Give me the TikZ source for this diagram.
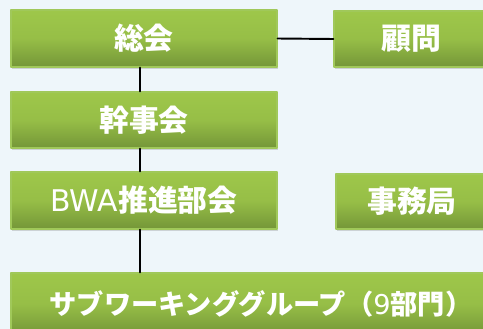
\documentclass[tikz,border=0pt]{standalone}
\usepackage{fontspec}
\newfontfamily\cjk{Noto Sans CJK JP}
\newfontfamily\latin{DejaVu Sans}
\usetikzlibrary{shadows}
\definecolor{bgblue}{RGB}{238,246,250}
\definecolor{greentop}{RGB}{158,199,74}
\definecolor{greenbot}{RGB}{116,150,56}
\definecolor{greenline}{RGB}{160,200,90}

\begin{document}
\begin{tikzpicture}[line cap=round, line join=round,
	orgbox/.style={draw=greenline, line width=0.6pt, top color=greentop, bottom color=greenbot,
		middle color=greentop!82!greenbot,
		text=white, inner sep=0pt, font=\cjk\bfseries\fontsize{17pt}{20pt}\selectfont,
		drop shadow={shadow xshift=0.5pt, shadow yshift=-1pt, opacity=0.3}},
	link/.style={black, line width=1.1pt}]

% ===== background =====
\fill[bgblue] (0,0) rectangle (9.66,-6.58);
\useasboundingbox (0,0) rectangle (9.66,-6.58);
\coordinate (spine) at (2.80,0);

% ===== boxes =====
\node[orgbox, minimum width=5.32cm, minimum height=1.14cm] (soukai) at (2.88,-0.77) {総会};
\node[orgbox, minimum width=3.10cm, minimum height=1.12cm] (komon) at (8.23,-0.78) {顧問};
\node[orgbox, minimum width=5.32cm, minimum height=1.12cm] (kanji) at (2.88,-2.40) {幹事会};
\node[orgbox, minimum width=5.32cm, minimum height=1.14cm] (bwa) at (2.88,-4.01) {{\latin\fontseries{m}\selectfont BWA}推進部会};
\node[orgbox, minimum width=3.04cm, minimum height=1.10cm] (jimu) at (8.24,-4.03) {事務局};
\node[orgbox, minimum width=10.0cm, minimum height=1.24cm] (subwg) at (5.22,-6.08)
	{\fontsize{15.5pt}{18pt}\selectfont サブワーキンググループ（{\latin\fontseries{m}\selectfont 9}部門）};

% ===== connectors =====
\draw[link] (soukai.east) -- (komon.west);
\draw[link] (soukai.south -| spine) -- (kanji.north -| spine);
\draw[link] (kanji.south -| spine) -- (bwa.north -| spine);
\draw[link] (bwa.south -| spine) -- (subwg.north -| spine);

\end{tikzpicture}
\end{document}
